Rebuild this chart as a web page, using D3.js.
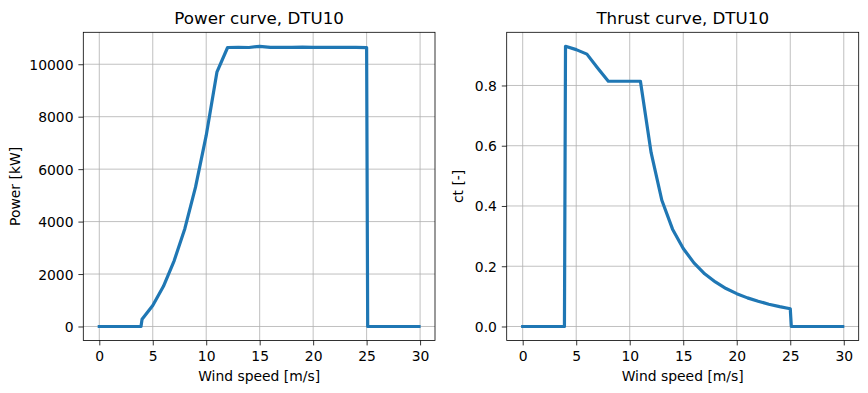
<!DOCTYPE html>
<html>
<head>
<meta charset="utf-8">
<script src="https://cdn.jsdelivr.net/npm/d3@7"></script>
<style>
  body { margin: 0; background: #fff; }
  text { font-family: "DejaVu Sans", sans-serif; fill: #000; }
</style>
</head>
<body>
<div id="chart"></div>
<script>
// wind speeds with tabulated turbine values (DTU 10MW)
var windSpeed = [4, 5, 6, 7, 8, 9, 10, 11, 12, 13, 14, 15, 16, 17, 18, 19, 20, 21, 22, 23, 24, 25];
var powerKW = [280, 799, 1533, 2506, 3731, 5312, 7287, 9698, 10639, 10649, 10639, 10684, 10642, 10641,
               10640, 10653, 10646, 10644, 10641, 10640, 10644, 10636];
var thrustCt = [0.93, 0.919, 0.904, 0.858, 0.814, 0.814, 0.814, 0.814, 0.577, 0.419, 0.323, 0.259, 0.211,
                0.175, 0.148, 0.126, 0.109, 0.095, 0.084, 0.074, 0.066, 0.059];
// outside the operating range the turbine gives zero
var cutIn = 3.9, cutOut = 25.1, wsEnd = 29.9;

var xTicks = [0, 5, 10, 15, 20, 25, 30];
var powerTicks = [0, 2000, 4000, 6000, 8000, 10000];
var ctTicks = [0, 0.2, 0.4, 0.6, 0.8];

var W = 868, H = 393;
var svg = d3.select('#chart').append('svg')
  .attr('width', W)
  .attr('height', H);

// build curve points from the table, padded with zeros
var makeCurve = function(values){
  var pts = [[0, 0], [cutIn, 0]];
  windSpeed.forEach(function(ws, i){ pts.push([ws, values[i]]); });
  pts.push([cutOut, 0]);
  pts.push([wsEnd, 0]);
  return pts;
};

var drawPanel = function(opts){
  var left = opts.left, right = opts.right, top = 32.3, bottom = 340.5;
  var pts = makeCurve(opts.values);
  var g = svg.append('g');

  // matplotlib style 5% margins
  var xmin = 0, xmax = wsEnd, xm = (xmax - xmin) * 0.05;
  var ymax = d3.max(pts, function(d){ return d[1]; }), ym = ymax * 0.05;
  var x = d3.scaleLinear().domain([xmin - xm, xmax + xm]).range([left, right]);
  var y = d3.scaleLinear().domain([-ym, ymax + ym]).range([bottom, top]);

  // grid
  g.selectAll('.vgrid').data(xTicks).enter().append('line')
    .attr('x1', function(d){ return x(d); }).attr('x2', function(d){ return x(d); })
    .attr('y1', top).attr('y2', bottom)
    .style('stroke', '#b0b0b0').style('stroke-width', 0.8);
  g.selectAll('.hgrid').data(opts.ticks).enter().append('line')
    .attr('x1', left).attr('x2', right)
    .attr('y1', function(d){ return y(d); }).attr('y2', function(d){ return y(d); })
    .style('stroke', '#b0b0b0').style('stroke-width', 0.8);

  // curve
  g.append('path')
    .datum(pts)
    .attr('d', d3.line().x(function(d){ return x(d[0]); }).y(function(d){ return y(d[1]); }))
    .style('fill', 'none')
    .style('stroke', '#1f77b4')
    .style('stroke-width', 3.2)
    .style('stroke-linecap', 'square')
    .style('stroke-linejoin', 'round');

  // axes
  var xAxis = d3.axisBottom(x).tickValues(xTicks).tickSize(4.9).tickPadding(4.9)
    .tickFormat(d3.format('d'));
  var yAxis = d3.axisLeft(y).tickValues(opts.ticks).tickSize(4.9).tickPadding(4.9)
    .tickFormat(opts.fmt);
  var gx = g.append('g').attr('transform', 'translate(0,' + bottom + ')').call(xAxis);
  var gy = g.append('g').attr('transform', 'translate(' + left + ',0)').call(yAxis);
  [gx, gy].forEach(function(a){
    a.select('.domain').remove();
    a.selectAll('line').style('stroke', '#000').style('stroke-width', 0.8);
    a.selectAll('text').style('font-size', '13.9px').style('font-family', '"DejaVu Sans", sans-serif');
  });
  gx.selectAll('text').attr('dy', null).attr('y', 20.5);
  gy.selectAll('text').attr('dy', '0.36em');

  // frame
  g.append('rect')
    .attr('x', left).attr('y', top)
    .attr('width', right - left).attr('height', bottom - top)
    .style('fill', 'none').style('stroke', '#000').style('stroke-width', 0.8);

  // labels
  g.append('text')
    .attr('x', (left + right) / 2).attr('y', 24)
    .attr('text-anchor', 'middle')
    .attr('font-size', '16.7px')
    .text(opts.title);
  g.append('text')
    .attr('x', (left + right) / 2).attr('y', 381)
    .attr('text-anchor', 'middle')
    .attr('font-size', '13.9px')
    .text('Wind speed [m/s]');
  g.append('text')
    .attr('transform', 'translate(' + opts.ylabelX + ',' + ((top + bottom) / 2) + ') rotate(-90)')
    .attr('text-anchor', 'middle')
    .attr('font-size', '13.9px')
    .text(opts.ylabel);
};

drawPanel({ left: 83.3, right: 435, values: powerKW, ticks: powerTicks, fmt: d3.format('d'),
  title: 'Power curve, DTU10', ylabel: 'Power [kW]', ylabelX: 20 });
drawPanel({ left: 506.7, right: 858.7, values: thrustCt, ticks: ctTicks, fmt: d3.format('.1f'),
  title: 'Thrust curve, DTU10', ylabel: 'ct [-]', ylabelX: 463 });
</script>
</body>
</html>
